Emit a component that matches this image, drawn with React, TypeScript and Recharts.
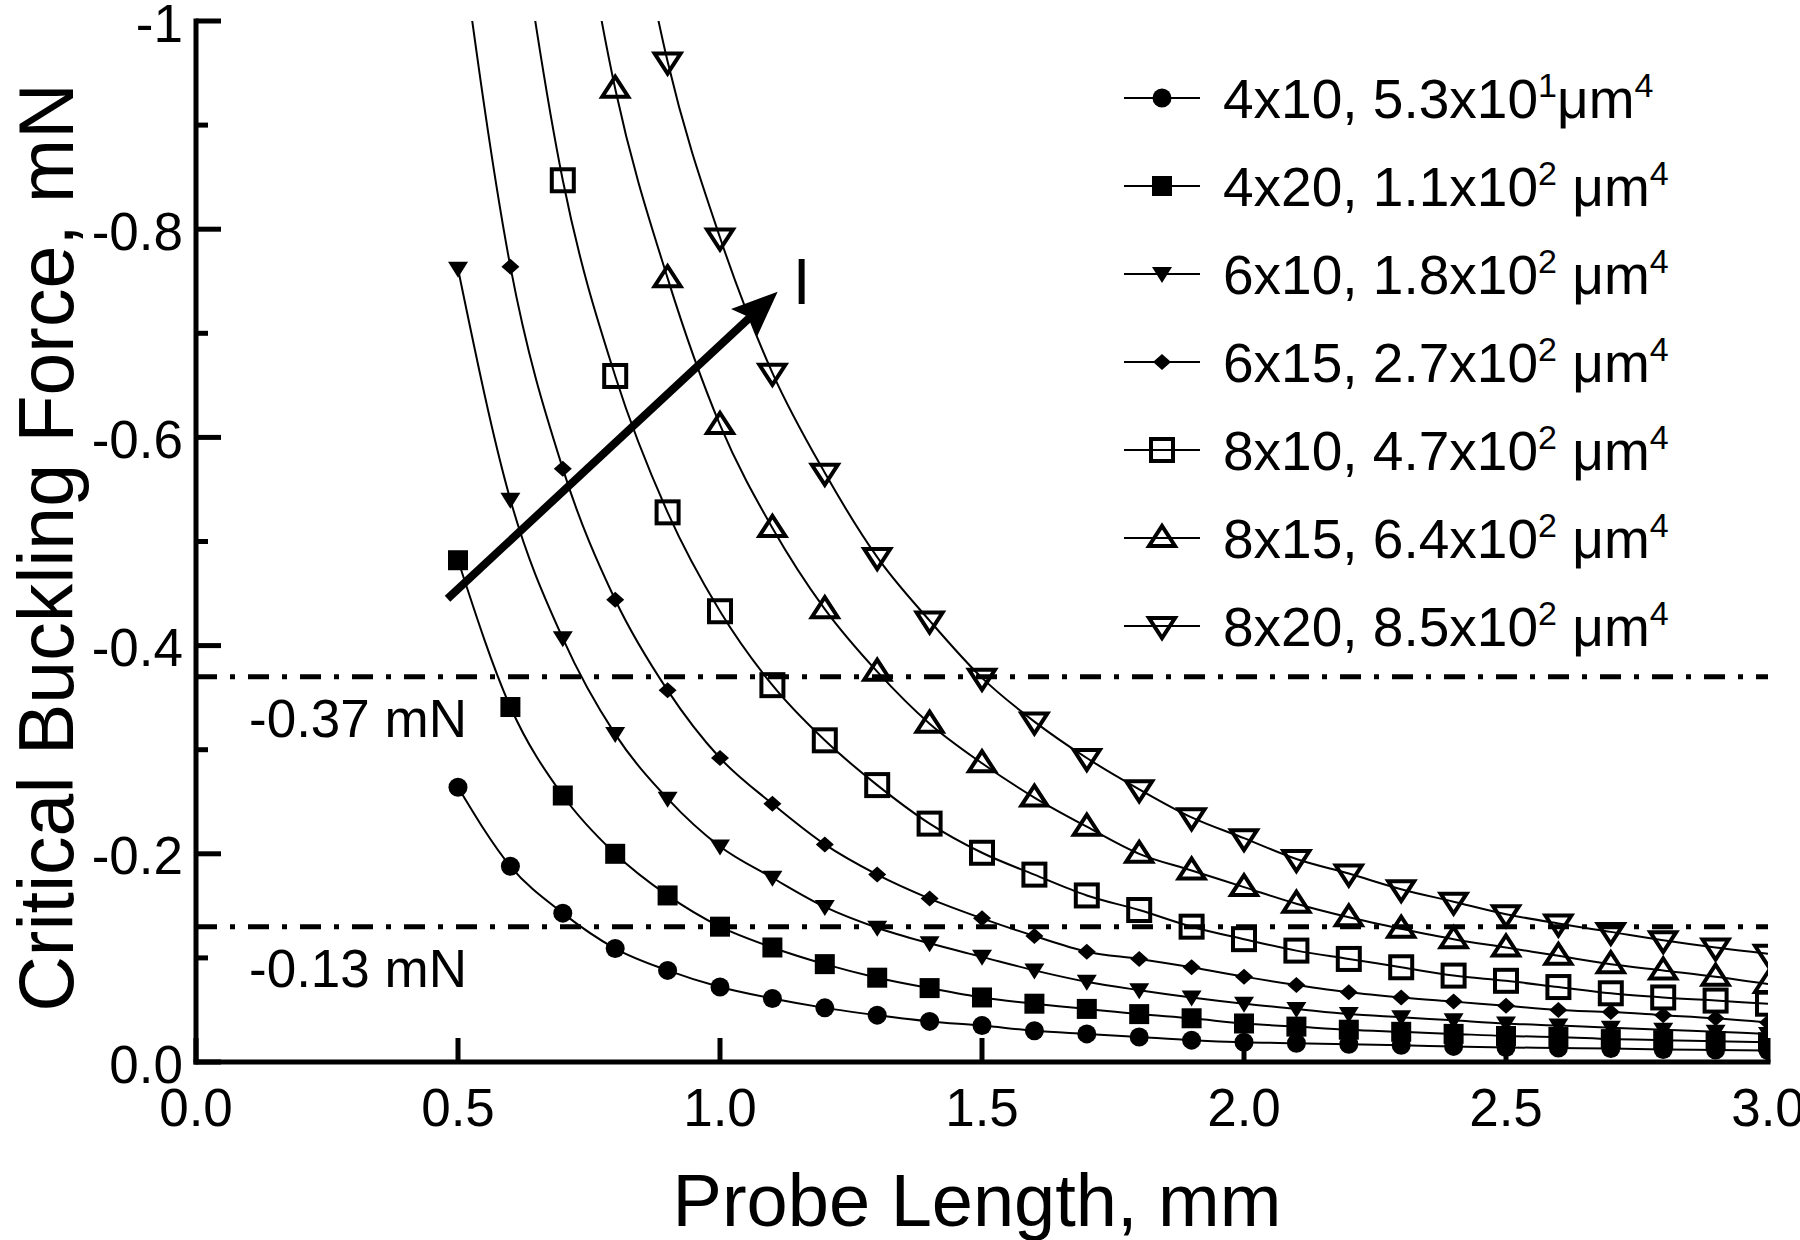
import React from 'react'
import { LineChart, Line, XAxis, YAxis, ReferenceLine, Legend } from 'recharts'

// probe lengths, mm
const lengths = [0.5, 0.6, 0.7, 0.8, 0.9, 1.0, 1.1, 1.2, 1.3, 1.4, 1.5, 1.6, 1.7, 1.8, 1.9, 2.0, 2.1, 2.2, 2.3, 2.4, 2.5, 2.6, 2.7, 2.8, 2.9, 3.0]

// critical buckling force, mN (values above -1 run off the top of the frame)
const f4x10 = [-0.264, -0.188, -0.143, -0.109, -0.088, -0.072, -0.061, -0.052, -0.045, -0.039, -0.035, -0.030, -0.027, -0.024, -0.021, -0.019, -0.018, -0.017, -0.016, -0.015, -0.014, -0.0135, -0.013, -0.012, -0.0115, -0.011]
const f4x20 = [-0.482, -0.341, -0.256, -0.200, -0.160, -0.130, -0.110, -0.094, -0.081, -0.071, -0.062, -0.056, -0.051, -0.046, -0.042, -0.037, -0.034, -0.031, -0.029, -0.027, -0.025, -0.024, -0.022, -0.021, -0.020, -0.019]
const f6x10 = [-0.762, -0.540, -0.407, -0.315, -0.253, -0.207, -0.177, -0.149, -0.129, -0.114, -0.101, -0.088, -0.077, -0.069, -0.062, -0.056, -0.051, -0.046, -0.043, -0.040, -0.037, -0.035, -0.033, -0.031, -0.029, -0.027]
const f6x15 = [-1.10, -0.764, -0.570, -0.444, -0.357, -0.292, -0.248, -0.209, -0.180, -0.157, -0.138, -0.121, -0.106, -0.099, -0.091, -0.082, -0.074, -0.067, -0.062, -0.058, -0.054, -0.050, -0.048, -0.045, -0.042, -0.038]
const f8x10 = [null, -1.16, -0.847, -0.659, -0.528, -0.433, -0.362, -0.309, -0.266, -0.229, -0.201, -0.180, -0.160, -0.146, -0.130, -0.118, -0.107, -0.099, -0.091, -0.083, -0.078, -0.072, -0.066, -0.062, -0.059, -0.056]
const f8x15 = [null, null, -1.22, -0.935, -0.753, -0.612, -0.513, -0.435, -0.375, -0.325, -0.287, -0.254, -0.226, -0.200, -0.184, -0.168, -0.152, -0.139, -0.128, -0.118, -0.110, -0.102, -0.094, -0.088, -0.082, -0.075]
const f8x20 = [null, null, null, -1.22, -0.961, -0.792, -0.662, -0.566, -0.485, -0.424, -0.369, -0.327, -0.292, -0.262, -0.235, -0.215, -0.195, -0.181, -0.166, -0.154, -0.142, -0.133, -0.125, -0.117, -0.110, -0.104]

const seriesKeys = ['f4x10', 'f4x20', 'f6x10', 'f6x15', 'f8x10', 'f8x15', 'f8x20']
const seriesValues = [f4x10, f4x20, f6x10, f6x15, f8x10, f8x15, f8x20]
const seriesDims = ['4x10', '4x20', '6x10', '6x15', '8x10', '8x15', '8x20']
const inertiaCoef = ['5.3', '1.1', '1.8', '2.7', '4.7', '6.4', '8.5']
const inertiaExp = ['1', '2', '2', '2', '2', '2', '2']
const markers = ['circle', 'square', 'triDown', 'diamond', 'openSquare', 'openTriUp', 'openTriDown']

const xTicks = [0, 0.5, 1.0, 1.5, 2.0, 2.5, 3.0]
const yTicks = [-1, -0.9, -0.8, -0.7, -0.6, -0.5, -0.4, -0.3, -0.2, -0.1, 0]

const limits = [-0.37, -0.13]
const limitLabels = ['-0.37 mN', '-0.13 mN']

// arrow showing increasing I
const arrowFrom = { x: 0.48, y: -0.445 }
const arrowTo = { x: 1.11, y: -0.74 }

const rows = lengths.map((length, i) => {
  const row: Record<string, number | null> = { length }
  seriesKeys.forEach((k, j) => (row[k] = seriesValues[j][i]))
  return row
})

const FONT = '"Liberation Sans", Arial, Helvetica, sans-serif'
const W = 1800
const H = 1240
const M = { top: 21, right: 32, bottom: 0, left: 0 }
const Y_AXIS_W = 196
const X_AXIS_H = 178
const LEFT = M.left + Y_AXIS_W
const RIGHT = W - M.right
const TOP = M.top
const BOTTOM = H - M.bottom - X_AXIS_H

function Marker({ shape, cx, cy }: { shape: string; cx: number; cy: number }) {
  switch (shape) {
    case 'circle':
      return <circle cx={cx} cy={cy} r={9.5} fill="#000" />
    case 'square':
      return <rect x={cx - 10} y={cy - 10} width={20} height={20} fill="#000" />
    case 'triDown':
      return <polygon points={`${cx - 10},${cy - 7} ${cx + 10},${cy - 7} ${cx},${cy + 9}`} fill="#000" />
    case 'diamond':
      return <polygon points={`${cx - 9},${cy} ${cx},${cy - 8} ${cx + 9},${cy} ${cx},${cy + 8}`} fill="#000" />
    case 'openSquare':
      return <rect x={cx - 11} y={cy - 11} width={22} height={22} fill="none" stroke="#000" strokeWidth={4} />
    case 'openTriUp':
      return <polygon points={`${cx - 13},${cy + 8} ${cx + 13},${cy + 8} ${cx},${cy - 12}`} fill="none" stroke="#000" strokeWidth={4} />
    case 'openTriDown':
      return <polygon points={`${cx - 13},${cy - 8} ${cx + 13},${cy - 8} ${cx},${cy + 12}`} fill="none" stroke="#000" strokeWidth={4} />
  }
  return null
}

const makeDot = (shape: string, key: string) => (p: any) => {
  if (p.value == null || p.cy == null || p.value < -1) return <g key={`${key}-${p.index}`} />
  return (
    <g key={`${key}-${p.index}`}>
      <Marker shape={shape} cx={p.cx} cy={p.cy} />
    </g>
  )
}

const yLabel = (v: number) => (v === -1 ? '-1' : v === 0 ? '0.0' : v.toFixed(1))
const isMajorY = (v: number) => Math.round(Math.abs(v) * 10) % 2 === 0

function LeftTick({ payload }: any) {
  const c = payload.coordinate
  const len = isMajorY(payload.value) ? 25 : 12
  return (
    <g>
      <line x1={LEFT} x2={LEFT + len} y1={c} y2={c} stroke="#000" strokeWidth={5} />
      {isMajorY(payload.value) && (
        <text x={LEFT - 13} y={c + 2} textAnchor="end" dominantBaseline="central" fontSize={53} fontFamily={FONT} fill="#000">
          {yLabel(payload.value)}
        </text>
      )}
    </g>
  )
}

function RightTick({ payload }: any) {
  const c = payload.coordinate
  const len = isMajorY(payload.value) ? 25 : 12
  return <line x1={RIGHT} x2={RIGHT - len} y1={c} y2={c} stroke="#000" strokeWidth={5} />
}

function BottomTick({ payload }: any) {
  const c = payload.coordinate
  return (
    <g>
      <line x1={c} x2={c} y1={BOTTOM} y2={BOTTOM - 24} stroke="#000" strokeWidth={5} />
      <text x={c} y={BOTTOM + 45} textAnchor="middle" dominantBaseline="central" fontSize={53} fontFamily={FONT} fill="#000">
        {payload.value.toFixed(1)}
      </text>
    </g>
  )
}

function TopTick({ payload }: any) {
  const c = payload.coordinate
  return <line x1={c} x2={c} y1={TOP} y2={TOP + 20} stroke="#000" strokeWidth={5} />
}

function ArrowShape({ x1, y1, x2, y2 }: any) {
  const dx = x2 - x1
  const dy = y2 - y1
  const d = Math.hypot(dx, dy)
  const ux = dx / d
  const uy = dy / d
  const nx = -uy
  const ny = ux
  const headL = 46
  const headW = 19
  const bx = x2 - ux * headL
  const by = y2 - uy * headL
  const notch = 8
  return (
    <g>
      <line x1={x1} y1={y1} x2={bx + ux * notch} y2={by + uy * notch} stroke="#000" strokeWidth={8} />
      <polygon
        points={`${x2},${y2} ${bx + nx * headW},${by + ny * headW} ${bx + ux * notch},${by + uy * notch} ${bx - nx * headW},${by - ny * headW}`}
        fill="#000"
      />
      <text x={x2 + 24} y={y2 - 10} textAnchor="middle" dominantBaseline="central" fontSize={64} fontFamily={FONT} fill="#000">
        I
      </text>
    </g>
  )
}

function LegendIcon({ shape }: { shape: string }) {
  return (
    <svg width={76} height={40} style={{ display: 'block', overflow: 'visible' }}>
      <line x1={0} x2={76} y1={20} y2={20} stroke="#000" strokeWidth={2} />
      <Marker shape={shape} cx={38} cy={20} />
    </svg>
  )
}

function renderLegend() {
  return (
    <div style={{ fontFamily: FONT, color: '#000', textAlign: 'left' }}>
      {seriesKeys.map((k, i) => (
        <div key={k} style={{ display: 'flex', alignItems: 'center', height: 88 }}>
          <LegendIcon shape={markers[i]} />
          <span style={{ fontSize: 55, marginLeft: 23, whiteSpace: 'nowrap', lineHeight: 1 }}>
            {seriesDims[i]}, {inertiaCoef[i]}x10
            <sup style={{ fontSize: '0.62em', verticalAlign: '0.62em' }}>{inertiaExp[i]}</sup>
            {i === 0 ? '' : ' '}μm
            <sup style={{ fontSize: '0.62em', verticalAlign: '0.62em' }}>4</sup>
          </span>
        </div>
      ))}
    </div>
  )
}

export default function App() {
  return (
    <div style={{ position: 'absolute', left: 0, top: 0, width: W, height: H, background: '#fff' }}>
      <LineChart width={W} height={H} data={rows} margin={M} style={{ fontFamily: FONT }}>
        <XAxis
          dataKey="length"
          type="number"
          domain={[0, 3]}
          ticks={xTicks}
          allowDataOverflow
          height={X_AXIS_H}
          tickLine={false}
          axisLine={{ stroke: '#000', strokeWidth: 5, strokeLinecap: 'square' }}
          tick={<BottomTick />}
          label={{
            content: ({ viewBox }: any) => (
              <text x={viewBox.x + viewBox.width / 2 - 5} y={viewBox.y + 138} textAnchor="middle" dominantBaseline="central" fontSize={74} fontFamily={FONT} fill="#000">
                Probe Length, mm
              </text>
            ),
          }}
        />
        <XAxis
          xAxisId="top"
          orientation="top"
          type="number"
          domain={[0, 3]}
          ticks={xTicks}
          height={0}
          tickLine={false}
          axisLine={{ stroke: '#000', strokeWidth: 5, strokeLinecap: 'square' }}
          tick={<TopTick />}
        />
        <YAxis
          type="number"
          domain={[-1, 0]}
          reversed
          ticks={yTicks}
          allowDataOverflow
          width={Y_AXIS_W}
          tickLine={false}
          axisLine={{ stroke: '#000', strokeWidth: 5, strokeLinecap: 'square' }}
          tick={<LeftTick />}
          label={{
            content: ({ viewBox }: any) => (
              <text
                x={46}
                y={viewBox.y + viewBox.height / 2 + 6}
                transform={`rotate(-90 46 ${viewBox.y + viewBox.height / 2 + 6})`}
                textAnchor="middle"
                dominantBaseline="central"
                fontSize={77}
                fontFamily={FONT}
                fill="#000"
              >
                Critical Buckling Force, mN
              </text>
            ),
          }}
        />
        <YAxis
          yAxisId="right"
          orientation="right"
          type="number"
          domain={[-1, 0]}
          reversed
          ticks={yTicks}
          width={0}
          tickLine={false}
          axisLine={{ stroke: '#000', strokeWidth: 5, strokeLinecap: 'square' }}
          tick={<RightTick />}
        />
        {limits.map((v, i) => (
          <ReferenceLine
            key={v}
            y={v}
            stroke="#000"
            strokeWidth={5}
            strokeDasharray="21 13 5 13"
            label={{
              content: ({ viewBox }: any) => (
                <text x={viewBox.x + 53} y={viewBox.y + 60} fontSize={53} fontFamily={FONT} fill="#000">
                  {limitLabels[i]}
                </text>
              ),
            }}
          />
        ))}
        {seriesKeys.map((k, i) => (
          <Line
            key={k}
            dataKey={k}
            type="monotone"
            stroke="#000"
            strokeWidth={2}
            dot={makeDot(markers[i], k)}
            activeDot={false}
            isAnimationActive={false}
          />
        ))}
        <ReferenceLine segment={[arrowFrom, arrowTo]} shape={<ArrowShape />} />
        <Legend
          layout="horizontal"
          verticalAlign="middle"
          align="center"
          content={renderLegend}
          wrapperStyle={{ left: 1124, top: 54, width: 670 }}
        />
      </LineChart>
    </div>
  )
}
